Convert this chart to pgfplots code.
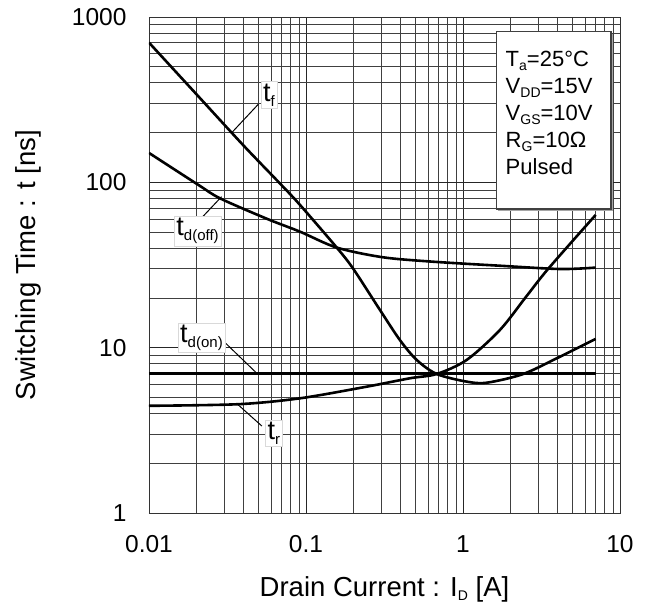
\documentclass[border=0pt]{standalone}
\usepackage{fontspec}
\setmainfont{Liberation Sans}
\usepackage{pgfplots}
\pgfplotsset{compat=1.18}

% curve label: big "t" with a lowered small subscript
\newcommand{\tlab}[1]{{\fontsize{27}{27}\selectfont t}\raisebox{-5pt}{\fontsize{15}{15}\selectfont #1}}
\newcommand{\sub}[1]{\raisebox{-4pt}{\fontsize{14}{14}\selectfont #1}}

\begin{document}
\begin{tikzpicture}
\begin{loglogaxis}[
    scale only axis,
    width=471pt, height=496pt,
    xmin=0.01, xmax=10,
    ymin=1, ymax=1000,
    xtick={0.01,0.1,1,10},
    xticklabels={0.01,0.1,1,10},
    ytick={1,10,100,1000},
    yticklabels={1,10,100,1000},
    minor xtick={0.02,0.03,0.04,0.05,0.06,0.07,0.08,0.09,0.2,0.3,0.4,0.5,0.6,0.7,0.8,0.9,2,3,4,5,6,7,8,9},
    minor ytick={2,3,4,5,6,7,8,9,20,30,40,50,60,70,80,90,200,300,400,500,600,700,800,900},
    major tick length=0pt, minor tick length=0pt,
    grid=both,
    major grid style={black!85, line width=0.7pt},
    minor grid style={black!75, line width=0.6pt},
    axis line style={black!80, line width=0.8pt},
    /pgf/number format/assume math mode=true,
    ticklabel style={font=\fontsize{24.5}{24.5}\selectfont},
    xticklabel style={yshift=-19pt},
    yticklabel style={xshift=-19pt},
    xlabel={Drain Current : I\sub{D} [A]},
    ylabel={Switching Time : t [ns]},
    label style={font=\fontsize{27.5}{27.5}\selectfont},
    xlabel style={at={(axis description cs:0.5,0)}, anchor=base, yshift=-84pt},
    ylabel style={at={(axis description cs:-0.257,0.5)}, anchor=center},
    curve/.style={black, line width=2.6pt, smooth, mark=none},
]

% t_f
\addplot[curve] coordinates {
    (0.01,700) (0.02,342) (0.04,167) (0.07,96) (0.0916,73) (0.157,40.3)
    (0.2,30.0) (0.296,16.9) (0.397,11.1) (0.507,8.43) (0.68,6.93) (1.056,6.23)
    (1.42,6.14) (2.42,6.93) (4.15,8.82) (7,11.3)
};
% t_r
\addplot[curve] coordinates {
    (0.01,4.45) (0.0371,4.55) (0.0916,4.94) (0.244,5.81) (0.459,6.53) (0.68,6.93)
    (1.056,8.43) (1.72,12.8) (2.5,20.1) (3.49,30) (7,63.5)
};
% t_d(off)
\addplot[curve] coordinates {
    (0.01,150.6) (0.0208,96) (0.0286,79.7) (0.0568,60) (0.0916,50.3) (0.157,40.3)
    (0.31,35.2) (0.647,33.1) (1.72,31.3) (4.15,29.9) (7,30.5)
};
% t_d(on)
\addplot[curve] coordinates {
    (0.01,6.95) (7,6.95)
};

% leader lines
\draw[black, line width=1pt] (axis cs:0.0497,296.7) -- (axis cs:0.034,201.8);
\draw[black, line width=1pt] (axis cs:0.0201,56.6) -- (axis cs:0.0290,81.9);
\draw[black, line width=1pt] (axis cs:0.0309,10.6) -- (axis cs:0.049,6.95);
\draw[black, line width=1pt] (axis cs:0.0523,3.36) -- (axis cs:0.0371,4.5);

% curve labels
\node[fill=white, draw=black!15, inner sep=2pt] at (axis cs:0.0581,338) {\tlab{f}};
\node[fill=white, draw=black!15, inner sep=2pt] at (axis cs:0.0204,50.8) {\tlab{d(off)}};
\node[fill=white, draw=black!15, inner sep=2pt] at (axis cs:0.0216,11.5) {\tlab{d(on)}};
\node[fill=white, draw=black!15, inner sep=2pt] at (axis cs:0.0625,3.03) {\tlab{r}};

% condition box
\fill[black!35] ([shift={(2pt,-2pt)}]axis description cs:0.737,0.613) rectangle ([shift={(2pt,-2pt)}]axis description cs:0.981,0.970);
\draw[black!75, line width=1.2pt, fill=white] (axis description cs:0.737,0.613) rectangle (axis description cs:0.981,0.970);
\node[anchor=north west, align=left, inner sep=0pt, font=\fontsize{22}{27}\selectfont]
    at (axis description cs:0.757,0.932)
    {T\sub{a}=25°C\\ V\sub{DD}=15V\\ V\sub{GS}=10V\\ R\sub{G}=10Ω\\ Pulsed};
\end{loglogaxis}
\path ([shift={(-149pt,-96pt)}]current axis.south west) rectangle ([shift={(31pt,17pt)}]current axis.north east);
\end{tikzpicture}
\end{document}
